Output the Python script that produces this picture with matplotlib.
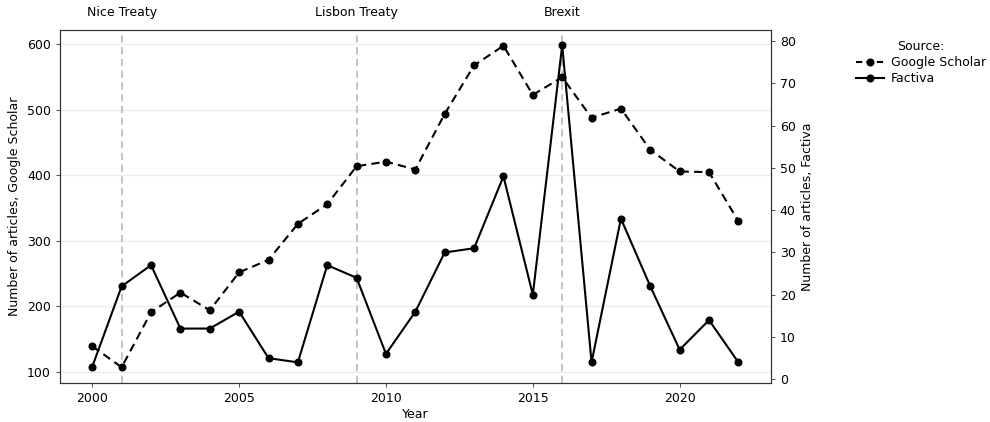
import matplotlib
matplotlib.use("Agg")
from matplotlib import pyplot as plt
from matplotlib.lines import Line2D

# --------------- Data ---------------
years = list(range(2000, 2023))
google_scholar = [139, 107, 191, 221, 194, 252, 271, 326, 356, 414, 421, 409,
                  494, 568, 598, 523, 550, 488, 502, 439, 406, 405, 330]
factiva = [3, 22, 27, 12, 12, 16, 5, 4, 27, 24, 6, 16,
           30, 31, 48, 20, 79, 4, 38, 22, 7, 14, 4]

event_years = [2001, 2009, 2016]
event_labels = ["Nice Treaty", "Lisbon Treaty", "Brexit"]

# --------------- Figure ---------------
W, H = 990, 422
fig = plt.figure(figsize=(W / 100, H / 100), dpi=100)
ax = fig.add_axes([60 / W, 1 - 383.3 / H, (770.7 - 60) / W, (383.3 - 29.7) / H])
ax2 = ax.twinx()

border = "#333333"
for a in (ax, ax2):
    for s in a.spines.values():
        s.set_color(border)
        s.set_linewidth(0.8)
    a.tick_params(direction="out", length=3, width=0.6, color=border,
                  labelsize=9, labelcolor="black")

# horizontal grid only
ax.set_yticks([100, 200, 300, 400, 500, 600])
ax.grid(axis="y", color="#EBEBEB", linewidth=0.8)
ax.set_axisbelow(True)

# event markers
for yr, lab in zip(event_years, event_labels):
    ax.axvline(yr, color="#BEBEBE", linestyle=(0, (4, 2.5)), linewidth=1.3, zorder=1)
    ax.text(yr, 622.5 + 0.048 * 540, lab, ha="center", va="center", fontsize=9,
            clip_on=False)

ax.plot(years, google_scholar, color="black", linewidth=1.5,
        linestyle=(0, (4, 2.5)), marker="o", markersize=4.8, zorder=3)
ax2.plot(years, factiva, color="black", linewidth=1.5, linestyle="-",
         marker="o", markersize=4.8, zorder=3)

ax.set_xlim(1998.9, 2023.1)
ax.set_ylim(82.5, 622.5)
ax2.set_ylim(-0.95, 82.7)
ax.set_xticks([2000, 2005, 2010, 2015, 2020])
ax2.set_yticks(range(0, 81, 10))

ax.set_xlabel("Year", fontsize=9, labelpad=2)
ax.set_ylabel("Number of articles, Google Scholar", fontsize=9)
ax2.set_ylabel("Number of articles, Factiva", fontsize=9)

handles = [
    Line2D([], [], color="black", linewidth=1.5, linestyle=(0, (3, 2)),
           marker="o", markersize=4.8),
    Line2D([], [], color="black", linewidth=1.5, linestyle="-",
           marker="o", markersize=4.8),
]
leg = fig.legend(handles, ["Google Scholar", "Factiva"], title="Source:",
                 loc="upper left", bbox_to_anchor=(845 / W, 1 - 29 / H),
                 frameon=False, fontsize=9, title_fontsize=9,
                 handlelength=2.2, handletextpad=0.6, labelspacing=0.25)

fig.savefig("out.png", dpi=100)
